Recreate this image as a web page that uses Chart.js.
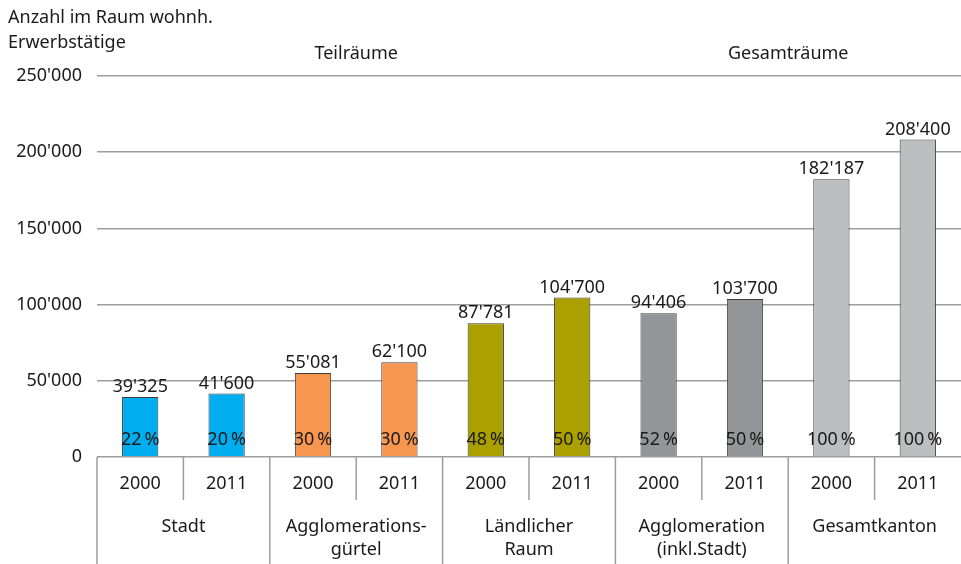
<!DOCTYPE html>
<html>
<head>
<meta charset="utf-8">
<script src="https://cdn.jsdelivr.net/npm/chart.js@4"></script>
<style>
  html, body { margin: 0; padding: 0; background: #fff; }
  #wrap { width: 961px; height: 564px; }
</style>
</head>
<body>
<div id="wrap"><canvas id="chart" width="961" height="564"></canvas></div>
<script>
// Werte
const years = ['2000', '2011', '2000', '2011', '2000', '2011', '2000', '2011', '2000', '2011'];
const values = [39325, 41600, 55081, 62100, 87781, 104700, 94406, 103700, 182187, 208400];
const shares = [22, 20, 30, 30, 48, 50, 52, 50, 100, 100];
const barColors = ['#00aeef', '#00aeef', '#f7964f', '#f7964f', '#aba000', '#aba000',
                   '#939598', '#939598', '#bcbec0', '#bcbec0'];
const groups = [['Stadt'], ['Agglomerations-', 'gürtel'], ['Ländlicher', 'Raum'],
                ['Agglomeration', '(inkl.Stadt)'], ['Gesamtkanton']];
const headerLabels = ['Teilräume', 'Gesamträume'];
const headerSpans = [[0, 5], [6, 9]];
const axisTitle = ['Anzahl im Raum wohnh.', 'Erwerbstätige'];
const yMax = 250000;
const yStep = 50000;

const FONT = '"Noto Sans", sans-serif';
const TEXT = '#1a1a1a';
const LINE = '#9d9d9d';

function fmt(n) {
  return String(n).replace(/\B(?=(\d{3})+(?!\d))/g, "'");
}

const labelsPlugin = {
  id: 'labels',
  afterDraw(chart) {
    const ctx = chart.ctx;
    const xs = chart.scales.x;
    const area = chart.chartArea;
    const meta = chart.getDatasetMeta(0);
    const half = (xs.getPixelForValue(1) - xs.getPixelForValue(0)) / 2;
    ctx.save();
    ctx.fillStyle = TEXT;
    ctx.font = '18px ' + FONT;
    ctx.textAlign = 'center';

    // Werte über den Balken und Anteile unten im Balken
    meta.data.forEach((bar, i) => {
      ctx.textBaseline = 'bottom';
      ctx.fillText(fmt(values[i]), bar.x, bar.y - 1);
      ctx.textBaseline = 'middle';
      ctx.fillText(shares[i] + '\u2009%', bar.x, area.bottom - 17);
    });

    // Tabelle unter der Achse
    ctx.strokeStyle = LINE;
    ctx.lineWidth = 1.5;
    for (let i = 0; i < years.length; i++) {
      const xl = xs.getPixelForValue(i) - half;
      ctx.beginPath();
      ctx.moveTo(xl, area.bottom);
      ctx.lineTo(xl, i % 2 === 0 ? chart.height : area.bottom + 43);
      ctx.stroke();
      ctx.textBaseline = 'middle';
      ctx.fillText(years[i], xs.getPixelForValue(i), area.bottom + 27);
    }
    groups.forEach((lines, g) => {
      const cx = (xs.getPixelForValue(g * 2) + xs.getPixelForValue(g * 2 + 1)) / 2;
      lines.forEach((t, k) => ctx.fillText(t, cx, area.bottom + 70 + k * 23));
    });

    // Überschriften
    headerLabels.forEach((t, h) => {
      const a = xs.getPixelForValue(headerSpans[h][0]);
      const b = xs.getPixelForValue(headerSpans[h][1]);
      ctx.fillText(t, (a + b) / 2, 54);
    });
    ctx.textAlign = 'left';
    axisTitle.forEach((t, k) => ctx.fillText(t, 8, 18 + k * 25));
    ctx.restore();
  }
};

new Chart(document.getElementById('chart'), {
  type: 'bar',
  data: {
    labels: years,
    datasets: [{
      data: values,
      backgroundColor: barColors,
      borderColor: '#3c3c3c',
      borderWidth: 1,
      barPercentage: 0.42,
      categoryPercentage: 1
    }]
  },
  options: {
    responsive: false,
    animation: false,
    layout: { padding: { top: 76, right: 0, left: 0, bottom: 0 } },
    plugins: { legend: { display: false }, tooltip: { enabled: false } },
    scales: {
      x: {
        grid: { display: false },
        border: { display: false },
        ticks: { display: false },
        afterFit: (s) => { s.height = 107; }
      },
      y: {
        min: 0,
        max: yMax,
        afterFit: (s) => { s.width = 97; },
        border: { display: false },
        grid: { color: LINE, lineWidth: 1.5, drawTicks: false },
        ticks: {
          stepSize: yStep,
          padding: 15,
          color: TEXT,
          font: { family: FONT, size: 18 },
          callback: (v) => fmt(v)
        }
      }
    }
  },
  plugins: [labelsPlugin]
});
</script>
</body>
</html>
